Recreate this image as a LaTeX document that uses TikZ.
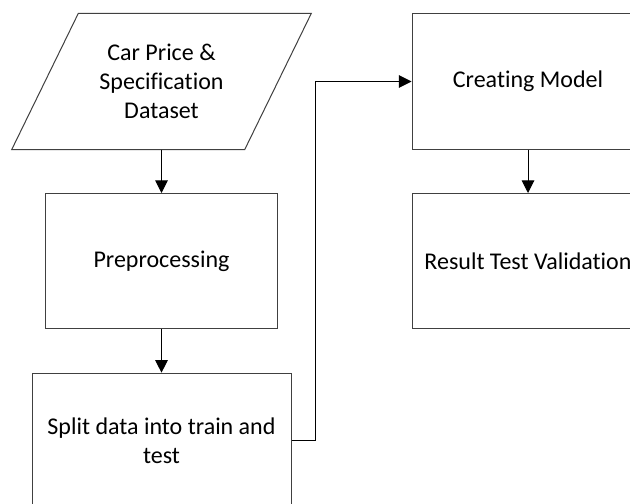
\documentclass[tikz,border=0pt]{standalone}
\usepackage{fontspec}
\setmainfont{Carlito}[RawFeature={-liga;-clig}]
\usepackage{tikz}
\usetikzlibrary{arrows.meta,positioning}

\begin{document}
\begin{tikzpicture}[x=0.75pt, y=-0.75pt,
    >={Triangle[length=9.5pt, width=9.5pt]},
    stepbox/.style={draw=black!75, line width=0.75pt, inner sep=0pt,
      minimum width=174pt, minimum height=101.5pt,
      font=\fontsize{18}{21.75}\selectfont, align=center},
    arr/.style={->, line width=0.75pt}]
  \clip (0,0) rectangle (630,503);
  \fill[white] (0,0) rectangle (630,503);
  % input data (parallelogram drawn round a plain node)
  \node[stepbox, draw=none] (data) at (161.5,81.5) {Car Price \&\\Specification\\Dataset};
  \draw[draw=black!75, line width=0.75pt]
    ([xshift=25pt]data.north west) -- ([xshift=25pt]data.north east)
    -- ([xshift=-25pt]data.south east) -- ([xshift=-25pt]data.south west) -- cycle;
  \node[stepbox, below=32.5pt of data] (prep) {Preprocessing};
  \node[stepbox, minimum width=194.25pt, below=32.5pt of prep] (split) {Split data into train and\\test};
  \node[stepbox] (model) at (528,81.5) {Creating Model};
  \node[stepbox, below=32.5pt of model] (result) {Result Test Validation};
  \draw[arr] (data) -- (prep);
  \draw[arr] (prep) -- (split);
  \draw[arr] (split.east) -- ++(24,0) |- (model.west);
  \draw[arr] (model) -- (result);
\end{tikzpicture}
\end{document}
